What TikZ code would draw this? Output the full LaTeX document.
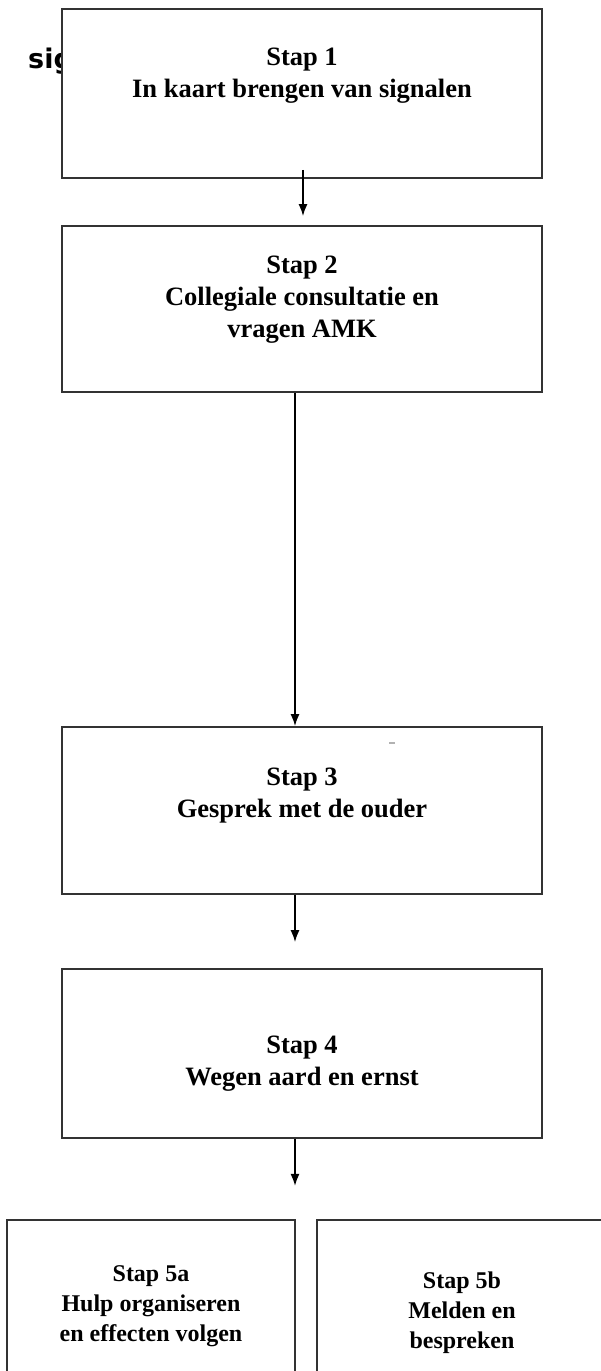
\documentclass[tikz,border=0pt]{standalone}
\usepackage{fontspec}
\setmainfont{Liberation Serif}
\newfontfamily\sigfont{DejaVu Sans}
\usetikzlibrary{arrows.meta,positioning}

\tikzset{
  stapbox/.style={draw=black!80, line width=1.8pt, fill=white, rectangle, inner sep=0pt},
  staptekst/.style={anchor=north, inner sep=0pt, align=center, font=\bfseries\fontsize{26.5}{32}\selectfont},
  kleintekst/.style={staptekst, font=\bfseries\fontsize{24}{30}\selectfont},
  pijl/.style={-{Latex[length=12pt,width=9pt]}, line width=1.6pt}
}

\begin{document}
\begin{tikzpicture}[x=1pt, y=-1pt]
        \clip (0,0) rectangle (601,1371);
        \fill[white] (0,0) rectangle (601,1371);

        % tekst achter de eerste stap
        \node[anchor=base west, inner sep=0pt, font=\sigfont\bfseries\fontsize{27}{30}\selectfont] (sig) at (28,68) {sig};

        % de stappen
        \node[stapbox, minimum width=480pt, minimum height=169pt] (s1) at (302,93.5) {};
        \node[stapbox, minimum width=480pt, minimum height=166pt] (s2) at (302,309) {};
        \node[stapbox, minimum width=480pt, minimum height=167pt] (s3) at (302,810.5) {};
        \node[stapbox, minimum width=480pt, minimum height=169pt] (s4) at (302,1053.5) {};
        \node[stapbox, minimum width=288pt, minimum height=180pt] (s5a) at (151,1310) {};
        \node[stapbox, minimum width=290pt, minimum height=180pt] (s5b) at (462,1310) {};

        \node[staptekst] (t1) at ([yshift=-40pt]s1.north) {Stap 1\\In kaart brengen van signalen};
        \node[staptekst] (t2) at ([yshift=-31pt]s2.north) {Stap 2\\Collegiale consultatie en\\vragen AMK};
        \node[staptekst] (t3) at ([yshift=-42pt]s3.north) {Stap 3\\Gesprek met de ouder};
        \node[staptekst] (t4) at ([yshift=-68pt]s4.north) {Stap 4\\Wegen aard en ernst};
        \node[kleintekst] (t5a) at ([yshift=-46pt]s5a.north) {Stap 5a\\Hulp organiseren\\en effecten volgen};
        \node[kleintekst] (t5b) at ([yshift=-53pt]s5b.north) {Stap 5b\\Melden en\\bespreken};

        % pijlen
        \coordinate (p4) at ([xshift=-7pt,yshift=-47pt]s4.south);
        \draw[pijl] ([xshift=1pt,yshift=9pt]s1.south) -- ([xshift=1pt,yshift=9pt]s2.north);
        \draw[pijl] ([xshift=-7pt]s2.south) -- ([xshift=-7pt]s3.north);
        \draw[pijl] ([xshift=-7pt]s3.south) -- ([xshift=-7pt,yshift=26pt]s4.north);
        \draw[pijl] ([xshift=-7pt]s4.south) -- (p4);

        % grijs streepje
        \fill[black!30] (389,742) rectangle (395,744);
\end{tikzpicture}
\end{document}
